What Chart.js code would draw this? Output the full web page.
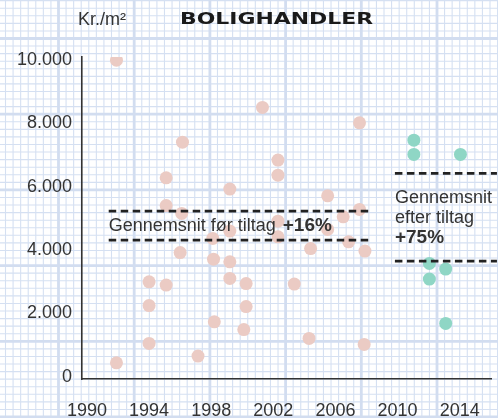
<!DOCTYPE html>
<html>
<head>
<meta charset="utf-8">
<script src="https://cdn.jsdelivr.net/npm/chart.js@4.4.0/dist/chart.umd.min.js"></script>
<style>
  html, body { margin: 0; padding: 0; background: #fff; }
  #wrap { width: 498px; height: 418px; }
</style>
</head>
<body>
<div id="wrap"><canvas id="myChart" width="498" height="418"></canvas></div>
<script>
// sales before the measures (year, kr./m2)
const beforeYears = [1991.9, 1991.9, 1994.0, 1994.0, 1994.0, 1995.1, 1995.1, 1995.1, 1996.15, 1996.1,
  1996.0, 1997.15, 1998.1, 1998.15, 1998.2, 1999.2, 1999.2, 1999.2, 1999.2, 2000.25,
  2000.25, 2000.1, 2001.3, 2002.3, 2002.3, 2002.3, 2002.3, 2003.35, 2004.4, 2004.3,
  2005.5, 2005.5, 2006.5, 2006.85, 2007.55, 2007.55, 2007.9, 2007.85];
const beforePrices = [10000, 442, 3000, 2248, 1055, 6284, 5406, 2895, 7411, 5159,
  3922, 654, 4370, 3716, 1737, 5927, 4601, 3631, 3107, 2943,
  2217, 1490, 8506, 6843, 6369, 4916, 4421, 2927, 4048, 1212,
  5715, 4654, 5052, 4263, 8020, 5286, 3969, 1023];

// sales after the measures
const afterYears = [2011.05, 2011.05, 2014.05, 2012.05, 2013.1, 2012.05, 2013.1];
const afterPrices = [7474, 7022, 7022, 3581, 3401, 3085, 1686];

// dashed bands (average before / after)
const beforeBandYears = [1991.4, 2008.3];
const beforeBand = [4316, 5232];
const afterBandYears = [2009.83, 2016.4];
const afterBand = [3653, 6423];

const yTickValues = [0, 2000, 4000, 6000, 8000, 10000];
const xTickValues = [1990, 1994, 1998, 2002, 2006, 2010, 2014];

const titleText = 'BOLIGHANDLER';
const unitText = 'Kr./m²';
const beforeLabel = ['Gennemsnit før tiltag ', '+16%'];
const afterLabel = ['Gennemsnit', 'efter tiltag', '+75%'];

Chart.defaults.font.family = "'Liberation Sans', Arial, sans-serif";
Chart.defaults.font.size = 18;
Chart.defaults.color = '#333';

const pts = (xs, ys) => xs.map((x, i) => ({ x: x, y: ys[i] }));
const band = (xs, v) => [{ x: xs[0], y: v }, { x: xs[1], y: v }];

const dashStyle = {
  type: 'line', showLine: true, pointRadius: 0, borderColor: '#222',
  borderWidth: 2.6, borderDash: [7.5, 4.5], fill: false, clip: false, order: 0
};

const graphPaper = {
  id: 'graphPaper',
  beforeDraw(chart) {
    const ctx = chart.ctx, w = chart.width, h = chart.height;
    const minor = 7.57, x0 = 58.5, y0 = 38.5;
    ctx.save();
    ctx.fillStyle = '#fff';
    ctx.fillRect(0, 0, w, h);
    ctx.strokeStyle = '#d5e0f2';
    ctx.lineWidth = 1.1;
    for (let k = -10; k < 70; k++) {
      const x = x0 + k * minor, y = y0 + k * minor;
      ctx.beginPath(); ctx.moveTo(x, 0); ctx.lineTo(x, h); ctx.stroke();
      ctx.beginPath(); ctx.moveTo(0, y); ctx.lineTo(w, y); ctx.stroke();
    }
    ctx.strokeStyle = '#d2ddf0';
    ctx.lineWidth = 2.8;
    for (let k = -1; k < 8; k++) {
      const x = x0 + k * minor * 10, y = y0 + k * minor * 10;
      ctx.beginPath(); ctx.moveTo(x, 0); ctx.lineTo(x, h); ctx.stroke();
      ctx.beginPath(); ctx.moveTo(0, y); ctx.lineTo(w, y); ctx.stroke();
    }
    ctx.restore();
  }
};

const texts = {
  id: 'texts',
  afterDatasetsDraw(chart) {
    const ctx = chart.ctx;
    const xs = chart.scales.x, ys = chart.scales.y;
    const reg = "18px 'Liberation Sans', Arial, sans-serif";
    const bold = "bold 19px 'Liberation Sans', Arial, sans-serif";
    ctx.save();
    ctx.fillStyle = '#333';
    ctx.textBaseline = 'middle';
    ctx.textAlign = 'left';

    // unit
    ctx.font = reg;
    ctx.fillText(unitText, 78, 20);

    // title, stretched to the wide face in the picture
    ctx.font = "bold 16px 'DejaVu Sans', sans-serif";
    ctx.fillStyle = '#1a1a1a';
    const tw = ctx.measureText(titleText).width;
    ctx.save();
    ctx.translate(180, 20);
    ctx.scale(193 / tw, 1);
    ctx.fillText(titleText, 0, 0);
    ctx.restore();

    // before label
    ctx.fillStyle = '#333';
    let x = xs.getPixelForValue(beforeBandYears[0]);
    let y = (ys.getPixelForValue(beforeBand[0]) + ys.getPixelForValue(beforeBand[1])) / 2;
    ctx.font = reg;
    ctx.fillText(beforeLabel[0], x, y);
    const w0 = ctx.measureText(beforeLabel[0]).width;
    ctx.font = bold;
    ctx.fillText(beforeLabel[1], x + w0 + 2, y);

    // after label
    x = xs.getPixelForValue(afterBandYears[0]);
    y = (ys.getPixelForValue(afterBand[0]) + ys.getPixelForValue(afterBand[1])) / 2;
    ctx.font = reg;
    ctx.fillText(afterLabel[0], x, y - 19);
    ctx.fillText(afterLabel[1], x, y + 1);
    ctx.font = bold;
    ctx.fillText(afterLabel[2], x, y + 20);
    ctx.restore();
  }
};

const config = {
  type: 'scatter',
  data: {
    datasets: [
      Object.assign({ data: band(beforeBandYears, beforeBand[0]) }, dashStyle),
      Object.assign({ data: band(beforeBandYears, beforeBand[1]) }, dashStyle),
      Object.assign({ data: band(afterBandYears, afterBand[0]) }, dashStyle),
      Object.assign({ data: band(afterBandYears, afterBand[1]) }, dashStyle),
      {
        label: 'Før', data: pts(beforeYears, beforePrices), order: 1,
        backgroundColor: '#ebcbc4', borderWidth: 0, pointRadius: 6.5, pointHoverRadius: 6.5
      },
      {
        label: 'Efter', data: pts(afterYears, afterPrices), order: 1,
        backgroundColor: '#8fd6c5', borderWidth: 0, pointRadius: 6.5, pointHoverRadius: 6.5
      }
    ]
  },
  options: {
    responsive: false,
    animation: false,
    events: [],
    layout: { padding: { top: 57, right: 5, left: 0, bottom: 0 } },
    plugins: { legend: { display: false }, tooltip: { enabled: false } },
    scales: {
      x: {
        type: 'linear', min: 1989.68, max: 2016.05,
        afterBuildTicks: s => { s.ticks = xTickValues.map(v => ({ value: v })); },
        afterFit: s => { s.height = 39; s.paddingLeft = 0; s.paddingRight = 0; },
        grid: { display: true, color: 'rgba(0,0,0,0)', drawTicks: false },
        border: { display: true, color: '#333', width: 1.6 },
        ticks: { padding: 21, color: '#333', callback: v => String(v) }
      },
      y: {
        type: 'linear', min: -70, max: 10100,
        afterBuildTicks: s => { s.ticks = yTickValues.map(v => ({ value: v })); },
        afterFit: s => { s.width = 82; s.paddingTop = 0; s.paddingBottom = 0; },
        grid: { display: true, color: 'rgba(0,0,0,0)', drawTicks: false },
        border: { display: true, color: '#333', width: 1.6 },
        ticks: {
          padding: 10, color: '#333',
          callback: v => v === 0 ? '0' : v.toLocaleString('da-DK')
        }
      }
    }
  },
  plugins: [graphPaper, texts]
};

const myChart = new Chart(document.getElementById('myChart'), config);
</script>
</body>
</html>
